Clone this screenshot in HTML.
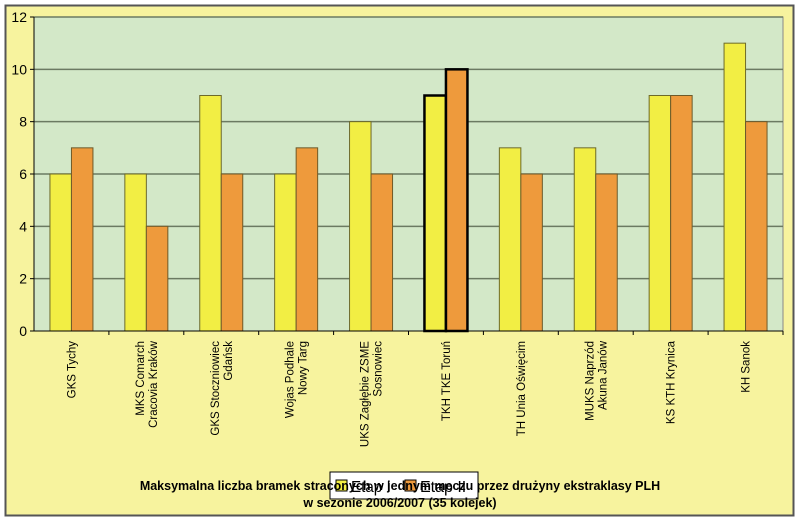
<!DOCTYPE html>
<html><head><meta charset="utf-8"><style>
body{margin:0;background:#fff;}
svg{display:block;font-family:"Liberation Sans",sans-serif;}
</style></head><body>
<svg id="chart" width="800" height="523" viewBox="0 0 800 523">
<rect x="5.5" y="5.5" width="788" height="510" fill="#f7f39e" stroke="#555" stroke-width="2"/>
<rect x="34" y="17" width="749" height="314" fill="#d3e8c8" stroke="#888" stroke-width="1"/>
<g id="grid"></g>
<g id="bars"></g>
<g id="yticks"></g>
<g id="xlabels"></g>
<line x1="34" y1="17" x2="34" y2="331" stroke="#000" stroke-width="1"/>
<line x1="30" y1="331" x2="783" y2="331" stroke="#000" stroke-width="1"/>
<g>
<rect x="330" y="472" width="148" height="27" fill="#fff" stroke="#000" stroke-width="1"/>
<rect x="336" y="480" width="11" height="11" fill="#f2ee44" stroke="#000"/>
<text x="351" y="492" font-size="16" transform="scale(0.95,1)" style="transform-box:fill-box">Etap I</text>
<rect x="405" y="480" width="11" height="11" fill="#ee9a3c" stroke="#000"/>
<text x="420" y="492" font-size="16">Etap II</text>
</g>
<text x="400" y="490" font-size="12.5" font-weight="bold" text-anchor="middle">Maksymalna liczba bramek straconych w jednym meczu przez drużyny ekstraklasy PLH</text>
<text x="400" y="507" font-size="12.5" font-weight="bold" text-anchor="middle">w sezonie 2006/2007 (35 kolejek)</text>
</svg>
<script>
const categories=[["GKS Tychy"],["MKS Comarch","Cracovia Kraków"],["GKS Stoczniowiec","Gdańsk"],["Wojas Podhale","Nowy Targ"],["UKS Zagłębie ZSME","Sosnowiec"],["TKH TKE Toruń"],["TH Unia Oświęcim"],["MUKS Naprzód","Akuna Janów"],["KS KTH Krynica"],["KH Sanok"]];
const etap1=[6,6,9,6,8,9,7,7,9,11];
const etap2=[7,4,6,7,6,10,6,6,9,8];
const yTicks=[0,2,4,6,8,10,12];
const highlighted=5;
const NS="http://www.w3.org/2000/svg";
const X0=34,X1=783,Y0=331,Y1=17,YMAX=12;
const bandW=(X1-X0)/categories.length;
const y=v=>Y0-(v/YMAX)*(Y0-Y1);
const xc=i=>X0+bandW*(i+0.5);
const bw=21.5;
function mk(tag,attrs,parent){const e=document.createElementNS(NS,tag);for(const k in attrs)e.setAttribute(k,attrs[k]);parent.appendChild(e);return e;}
const grid=document.getElementById('grid'),bars=document.getElementById('bars'),yt=document.getElementById('yticks'),xl=document.getElementById('xlabels');
yTicks.forEach(t=>{
  if(t>0){const l=mk('line',{x1:X0,x2:X1,y1:y(t),y2:y(t),stroke:'#6b7a62','stroke-width':1.5},grid);
  
  }
  const tk=mk('line',{x1:30,x2:34,y1:y(t),y2:y(t),stroke:'#000'},yt);
  
  
  const tx=mk('text',{x:27,y:y(t)+5,'font-size':14,'text-anchor':'end'},yt);
  tx.textContent=t;
  
  
});
categories.forEach((c,i)=>{
  const hl=i===highlighted;
  const b1=mk('rect',{x:xc(i)-bw,y:y(etap1[i]),width:bw,height:Y0-y(etap1[i]),fill:'#f2ee44',stroke:hl?'#000':'#6d6a2a','stroke-width':hl?2.5:1},bars);
  
  
  const b2=mk('rect',{x:xc(i),y:y(etap2[i]),width:bw,height:Y0-y(etap2[i]),fill:'#ee9a3c',stroke:hl?'#000':'#6d5a2a','stroke-width':hl?2.5:1},bars);
  
  
  const tk=mk('line',{x1:X0+bandW*(i+1),x2:X0+bandW*(i+1),y1:331,y2:335,stroke:'#000'},xl);
  
  
  const n=c.length;
  c.forEach((line,j)=>{
    const lx=xc(i)+4+(j-(n-1)/2)*13;
    const t=mk('text',{x:lx,y:341,'font-size':11.5,'text-anchor':'end',transform:`rotate(-90 ${lx} 341)`},xl);
    t.textContent=line;
    
    
  });
});
</script>
</body></html>
